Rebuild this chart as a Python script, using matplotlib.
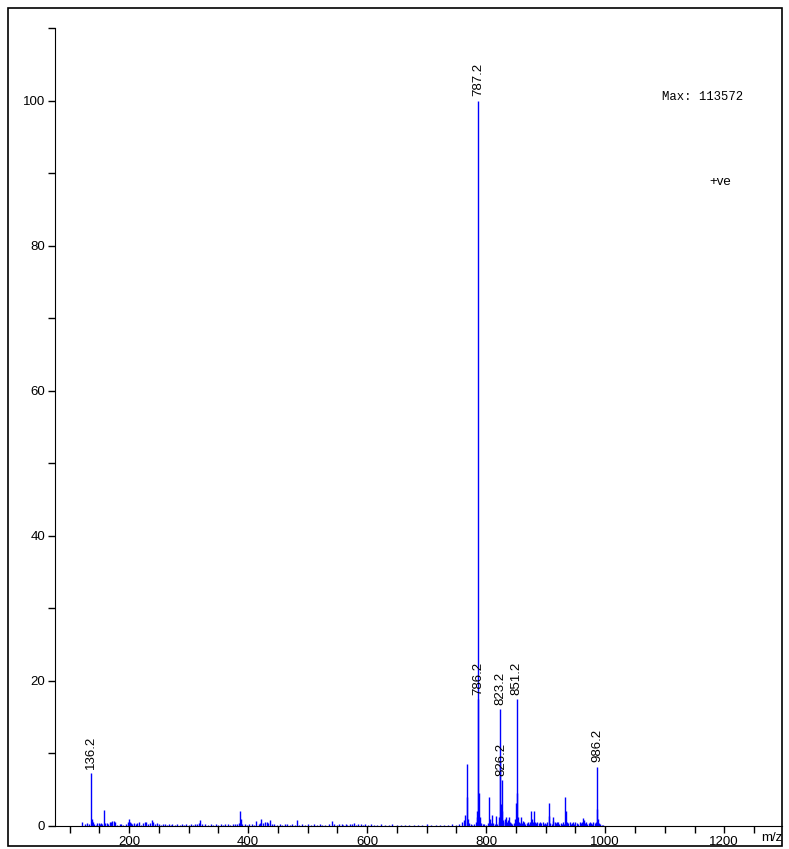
import matplotlib
matplotlib.use("Agg")
import matplotlib.pyplot as plt
from matplotlib.patches import Rectangle

# spectrum sticks: m/z and relative intensity (%)
mz = [121, 126, 130, 133, 136, 137, 138, 139, 141, 144, 147, 149, 151, 153, 155,
      158, 160, 163, 165, 168, 170, 172, 175, 177, 180, 184, 187, 190, 195, 199,
      200, 201, 203, 205, 208, 211, 214, 217, 220, 224, 227, 229, 232, 236, 239,
      241, 244, 247, 250, 253, 257, 260, 263, 267, 270, 273, 277, 281, 285, 289,
      292, 296, 300, 304, 307, 311, 315, 318, 320, 322, 327, 332, 337, 341, 346,
      350, 354, 358, 362, 366, 370, 374, 378, 382, 385, 387, 388, 390, 395, 398,
      402, 406, 410, 414, 418, 420, 422, 425, 428, 431, 433, 437, 440, 444, 449,
      453, 457, 462, 466, 470, 474, 478, 482, 486, 490, 495, 500, 505, 510, 515,
      520, 525, 530, 536, 541, 545, 549, 553, 557, 560, 564, 567, 571, 575, 578,
      581, 585, 589, 593, 597, 602, 607, 612, 617, 623, 630, 636, 642, 650, 657,
      664, 671, 678, 686, 693, 700, 708, 715, 722, 729, 736, 743, 749, 755, 760,
      763, 765, 767, 768, 769, 771, 774, 777, 780, 783, 784, 785, 786, 787, 788,
      789, 791, 794, 797, 800, 803, 805, 806, 808, 810, 812, 814, 817, 819, 821,
      822, 823, 824, 825, 826, 827, 828, 829, 831, 832, 834, 835, 837, 838, 840,
      842, 844, 847, 849, 850, 851, 852, 853, 855, 857, 858, 860, 862, 864, 866,
      868, 870, 872, 874, 876, 877, 879, 881, 882, 884, 886, 888, 890, 892, 895,
      897, 899, 901, 903, 905, 906, 908, 910, 912, 913, 915, 917, 919, 921, 923,
      925, 927, 929, 931, 933, 934, 936, 938, 940, 942, 944, 946, 948, 950, 952,
      955, 957, 959, 961, 963, 964, 966, 968, 970, 972, 974, 976, 978, 980, 982,
      984, 986, 987, 988, 990, 992, 994, 997]
intensity = [0.5, 0.3, 0.4, 0.3, 7.3, 0.9, 0.7, 0.5, 0.3, 0.2, 0.4, 0.4, 0.3, 0.4, 0.3,
             2.2, 0.4, 0.4, 0.3, 0.5, 0.6, 0.7, 0.7, 0.5, 0.2, 0.3, 0.3, 0.2, 0.3, 0.5,
             0.9, 0.6, 0.4, 0.3, 0.4, 0.3, 0.4, 0.5, 0.2, 0.4, 0.5, 0.5, 0.3, 0.4, 0.8,
             0.5, 0.3, 0.4, 0.3, 0.2, 0.3, 0.3, 0.2, 0.3, 0.2, 0.3, 0.2, 0.3, 0.2, 0.3,
             0.2, 0.3, 0.2, 0.3, 0.2, 0.3, 0.3, 0.4, 0.8, 0.3, 0.3, 0.2, 0.3, 0.2, 0.3,
             0.2, 0.3, 0.2, 0.3, 0.3, 0.2, 0.3, 0.3, 0.3, 0.4, 2.1, 1.0, 0.3, 0.3, 0.2,
             0.3, 0.3, 0.2, 0.7, 0.3, 0.4, 1.0, 0.4, 0.5, 0.6, 0.4, 0.8, 0.3, 0.3, 0.2,
             0.3, 0.2, 0.3, 0.3, 0.2, 0.3, 0.2, 0.8, 0.2, 0.3, 0.2, 0.3, 0.2, 0.3, 0.2,
             0.3, 0.2, 0.2, 0.3, 0.7, 0.3, 0.2, 0.3, 0.3, 0.2, 0.3, 0.2, 0.3, 0.3, 0.4,
             0.2, 0.3, 0.3, 0.2, 0.3, 0.2, 0.3, 0.2, 0.2, 0.3, 0.2, 0.2, 0.3, 0.2, 0.2,
             0.2, 0.2, 0.2, 0.2, 0.2, 0.3, 0.2, 0.2, 0.2, 0.2, 0.2, 0.3, 0.2, 0.3, 0.5,
             0.8, 1.5, 8.5, 4.0, 1.0, 0.4, 0.3, 0.2, 0.3, 0.6, 1.2, 2.0, 17.5, 100.0, 4.5,
             1.2, 0.4, 0.3, 0.3, 0.2, 0.4, 4.0, 1.0, 0.4, 1.5, 0.4, 0.3, 1.4, 0.3, 0.6,
             1.2, 16.1, 9.0, 3.0, 6.3, 2.0, 0.8, 0.5, 1.0, 0.6, 1.2, 0.6, 0.8, 1.3, 0.5,
             0.4, 0.3, 0.4, 1.0, 3.2, 17.5, 4.5, 1.2, 0.6, 0.4, 1.2, 0.4, 0.7, 0.6, 0.3,
             0.4, 0.5, 0.3, 0.5, 2.0, 1.0, 0.6, 2.0, 0.5, 0.4, 0.5, 0.4, 0.6, 0.4, 0.5,
             0.3, 0.4, 0.3, 0.5, 3.2, 1.4, 0.4, 0.3, 1.3, 0.7, 0.5, 0.4, 0.6, 0.5, 0.3,
             0.4, 0.3, 0.5, 0.3, 4.0, 2.1, 0.6, 0.4, 0.5, 0.3, 0.4, 0.5, 0.3, 0.6, 0.4,
             0.3, 0.5, 0.4, 0.5, 1.1, 0.8, 0.4, 0.5, 0.3, 0.4, 0.5, 0.4, 0.3, 0.5, 0.4,
             0.5, 8.2, 2.3, 1.0, 0.4, 0.3, 0.2, 0.2]

# annotated peaks
label_mz = [136.2, 787.2, 786.2, 823.2, 826.2, 851.2, 986.2]
label_int = [7.3, 100.0, 17.5, 16.1, 6.3, 17.5, 8.2]
label_text = ["136.2", "787.2", "786.2", "823.2", "826.2", "851.2", "986.2"]

W, H = 789, 849
fig = plt.figure(figsize=(W / 100, H / 100), dpi=100)
ax = fig.add_axes([55 / W, 1 - 826 / H, (782 - 55) / W, (826 - 28) / H])

ax.vlines(mz, 0, intensity, colors="#0000ff", linewidth=1.0)

for x, y, t in zip(label_mz, label_int, label_text):
    ax.text(x, y + 0.6, t, rotation=90, ha="center", va="bottom",
            fontsize=9.5, family="Liberation Sans")

ax.set_xlim(75.6, 1297)
ax.set_ylim(0, 110)
ax.set_xticks(range(200, 1201, 200))
ax.set_xticks(range(100, 1296, 50), minor=True)
ax.set_yticks(range(0, 101, 20))
ax.set_yticks(range(0, 111, 10), minor=True)
ax.spines["top"].set_visible(False)
ax.spines["right"].set_visible(False)
ax.tick_params(which="both", direction="out", length=5, width=1, color="black")
ax.tick_params(axis="both", labelsize=9.5, pad=2)
for lab in ax.get_xticklabels() + ax.get_yticklabels():
    lab.set_family("Liberation Sans")

ax.text(1.0, -0.008, "m/z", transform=ax.transAxes, ha="right", va="top",
        fontsize=9.5, family="Liberation Sans")
fig.text(662 / W, 1 - 97 / H, "Max: 113572", ha="left", va="center",
         fontsize=8.8, family="Liberation Mono")
fig.text(709 / W, 1 - 182 / H, "+ve", ha="left", va="center",
         fontsize=9.5, family="Liberation Sans")

# outer frame
fig.patches.append(Rectangle((8 / W, 1 - 846 / H), (782 - 8) / W, (846 - 8) / H,
                             transform=fig.transFigure, fill=False,
                             edgecolor="black", linewidth=1.2))

fig.savefig("out.png", dpi=100)
